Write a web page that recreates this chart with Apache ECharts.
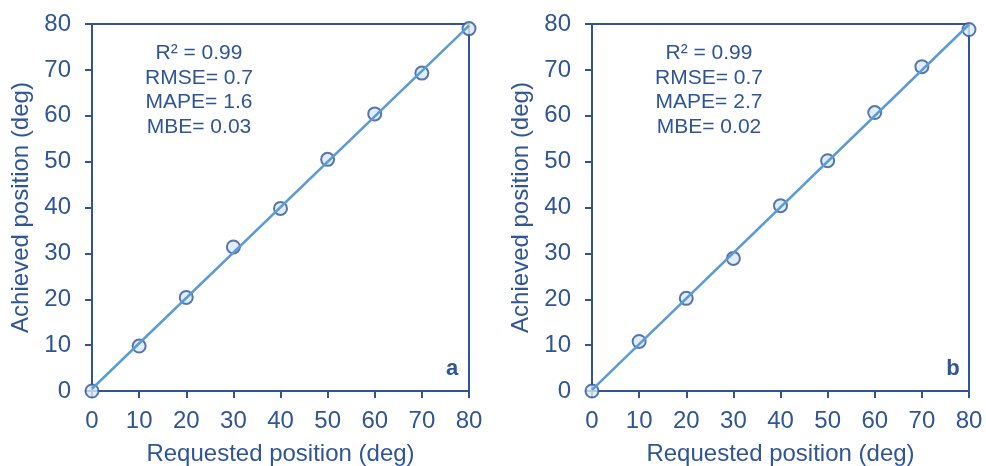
<!DOCTYPE html>
<html>
<head>
<meta charset="utf-8">
<script src="https://cdn.jsdelivr.net/npm/echarts@6/dist/echarts.min.js"></script>
<style>
  html, body { margin: 0; padding: 0; background: #fff; }
  #chart { width: 986px; height: 466px; }
</style>
</head>
<body>
<div id="chart"></div>
<script>
// requested positions (deg), shared by both panels
var requested = [0, 10, 20, 30, 40, 50, 60, 70, 80];
// achieved positions
var achievedA = [0, 9.8, 20.4, 31.4, 39.8, 50.5, 60.4, 69.3, 79.0];
var achievedB = [0, 10.8, 20.2, 28.9, 40.4, 50.2, 60.7, 70.7, 78.8];
var statsA = ['R² = 0.99', 'RMSE= 0.7', 'MAPE= 1.6', 'MBE= 0.03'];
var statsB = ['R² = 0.99', 'RMSE= 0.7', 'MAPE= 2.7', 'MBE= 0.02'];
var panelLabels = ['a', 'b'];

var dark = '#2F5597';
var lineBlue = '#5B9BD5';
var font = 'Liberation Sans';

// least squares fit line, drawn across the requested range
function fitLine(xs, ys) {
    var n = xs.length, sx = 0, sy = 0, sxx = 0, sxy = 0;
    for (var i = 0; i < n; i++) {
        sx += xs[i]; sy += ys[i];
        sxx += xs[i] * xs[i]; sxy += xs[i] * ys[i];
    }
    var k = (n * sxy - sx * sy) / (n * sxx - sx * sx);
    var b = (sy - k * sx) / n;
    var x0 = xs[0], x1 = xs[n - 1];
    return [[x0, k * x0 + b], [x1, k * x1 + b]];
}

function pairs(xs, ys) {
    return xs.map(function (x, i) { return [x, ys[i]]; });
}

var chart = echarts.init(document.getElementById('chart'));

function xAxis(idx) {
    return {
        gridIndex: idx, type: 'value', min: 0, max: 80, interval: 10,
        name: 'Requested position (deg)', nameLocation: 'middle', nameGap: 51,
        nameTextStyle: { color: dark, fontSize: 24, fontFamily: font },
        axisLine: { lineStyle: { color: dark, width: 2 } },
        axisTick: { show: true, length: 7, lineStyle: { color: dark, width: 2 } },
        axisLabel: { color: dark, fontSize: 24, fontFamily: font, margin: 18 },
        splitLine: { show: false }
    };
}
function yAxis(idx) {
    return {
        gridIndex: idx, type: 'value', min: 0, max: 80, interval: 10,
        name: 'Achieved position (deg)', nameLocation: 'middle', nameGap: 59,
        nameTextStyle: { color: dark, fontSize: 24, fontFamily: font },
        axisLine: { lineStyle: { color: dark, width: 2 } },
        axisTick: { show: true, length: 7, lineStyle: { color: dark, width: 2 } },
        axisLabel: { color: dark, fontSize: 24, fontFamily: font, margin: 21 },
        splitLine: { show: false }
    };
}

function statsTitle(lines, cx) {
    return {
        text: lines.join('\n'), left: cx, top: 36, textAlign: 'center',
        textStyle: { color: dark, fontSize: 21, fontWeight: 'normal', fontFamily: font, lineHeight: 24.5 }
    };
}

function seriesFor(idx, ys) {
    return [
        {
            type: 'scatter', xAxisIndex: idx, yAxisIndex: idx,
            data: pairs(requested, ys), symbol: 'circle', symbolSize: 13,
            itemStyle: { color: '#DAE8F6', borderColor: dark, borderWidth: 2 },
            z: 2
        },
        {
            type: 'line', xAxisIndex: idx, yAxisIndex: idx,
            data: fitLine(requested, ys), showSymbol: false,
            lineStyle: { color: lineBlue, width: 2.5 },
            z: 3
        }
    ];
}

var option = {
    backgroundColor: '#fff',
    animation: false,
    grid: [
        { left: 92, right: 517, top: 24, bottom: 75, show: true, borderColor: dark, borderWidth: 2,
          containLabel: false, outerBoundsMode: 'none' },
        { left: 592, right: 17, top: 24, bottom: 75, show: true, borderColor: dark, borderWidth: 2,
          containLabel: false, outerBoundsMode: 'none' }
    ],
    xAxis: [xAxis(0), xAxis(1)],
    yAxis: [yAxis(0), yAxis(1)],
    title: [
        statsTitle(statsA, 194),
        statsTitle(statsB, 704),
        { text: panelLabels[0], left: 447, top: 353, textAlign: 'center',
          textStyle: { color: dark, fontSize: 22, fontWeight: 'bold', fontFamily: font } },
        { text: panelLabels[1], left: 948, top: 353, textAlign: 'center',
          textStyle: { color: dark, fontSize: 22, fontWeight: 'bold', fontFamily: font } }
    ],
    series: seriesFor(0, achievedA).concat(seriesFor(1, achievedB))
};
chart.setOption(option);
</script>
</body>
</html>
